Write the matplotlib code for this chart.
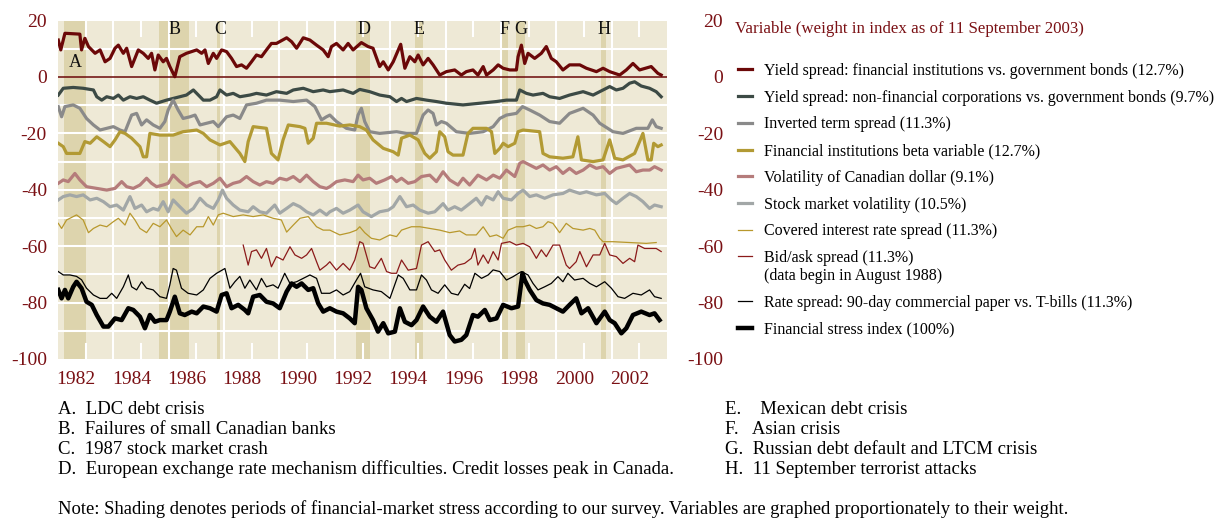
import matplotlib
matplotlib.use("Agg")
import matplotlib.pyplot as plt

# ---------------- data (decimal years, index points) ----------------
yr_fin = [1982.01, 1982.10, 1982.25, 1982.79, 1982.85, 1982.97, 1983.10, 1983.34, 1983.52, 1983.70, 1983.88,
          1984.06, 1984.18, 1984.36, 1984.48, 1984.66, 1984.90, 1985.08, 1985.26, 1985.38, 1985.50, 1985.62,
          1985.80, 1985.92, 1986.04, 1986.22, 1986.40, 1986.64, 1987.01, 1987.19, 1987.31, 1987.43, 1987.61,
          1987.73, 1987.91, 1988.09, 1988.27, 1988.45, 1988.63, 1988.81, 1988.99, 1989.17, 1989.35, 1989.53,
          1989.71, 1989.89, 1990.26, 1990.44, 1990.62, 1990.86, 1991.10, 1991.34, 1991.58, 1991.76, 1991.88,
          1992.06, 1992.30, 1992.48, 1992.66, 1992.96, 1993.20, 1993.38, 1993.62, 1993.75, 1993.93, 1994.11,
          1994.38, 1994.53, 1994.71, 1994.89, 1995.01, 1995.19, 1995.37, 1995.55, 1995.79, 1996.03, 1996.33,
          1996.57, 1996.75, 1996.99, 1997.17, 1997.36, 1997.48, 1997.72, 1997.90, 1998.08, 1998.32, 1998.56,
          1998.62, 1998.74, 1998.86, 1998.98, 1999.22, 1999.46, 1999.64, 1999.82, 2000.00, 2000.24, 2000.48,
          2000.85, 2001.09, 2001.45, 2001.69, 2001.93, 2002.29, 2002.53, 2002.77, 2003.01, 2003.43, 2003.67,
          2003.79]
v_fin = [13.1, 9.6, 15.5, 15.2, 9.6, 13.7, 10.8, 8.4, 9.6, 5.4, 6.6,
         10.2, 11.3, 8.4, 10.2, 3.7, 9.6, 8.4, 6.6, 8.4, 2.5, 7.8,
         5.4, 6.6, 3.7, 0.1, 7.2, 8.4, 9.6, 8.4, 9.6, 4.8, 8.4,
         6.6, 9.6, 9.0, 6.6, 3.7, 4.3, 3.1, 5.4, 7.8, 7.2, 9.6,
         11.9, 11.9, 13.9, 12.5, 10.2, 13.9, 13.1, 11.3, 9.6, 7.2, 10.8,
         11.9, 9.6, 11.9, 9.6, 12.2, 10.8, 10.2, 3.7, 5.4, 2.5, 5.4,
         11.6, 3.1, 7.2, 5.4, 7.8, 4.3, 6.6, 4.3, 0.7, 1.9, 2.5,
         0.7, 1.9, 2.5, 0.7, 3.7, 0.7, 2.5, 4.3, 3.1, 2.5, 2.5,
         7.2, 11.3, 4.8, 8.4, 6.6, 8.4, 10.8, 6.6, 5.4, 2.5, 4.3,
         4.3, 3.1, 1.9, 3.1, 1.9, 0.7, 2.5, 4.8, 2.5, 3.7, 1.3,
         0.7]

yr_nonfin = [1982.01, 1982.19, 1982.55, 1982.91, 1983.28, 1983.40, 1983.58, 1983.76, 1984.00, 1984.18, 1984.36,
             1984.60, 1984.84, 1985.08, 1985.32, 1985.56, 1985.92, 1986.16, 1986.40, 1986.64, 1986.89, 1987.07,
             1987.25, 1987.49, 1987.73, 1987.85, 1988.09, 1988.33, 1988.57, 1988.93, 1989.17, 1989.53, 1989.89,
             1990.26, 1990.50, 1990.86, 1991.22, 1991.58, 1991.82, 1992.30, 1992.66, 1992.90, 1993.26, 1993.62,
             1993.99, 1994.23, 1994.41, 1994.59, 1994.95, 1995.31, 1995.67, 1996.03, 1996.63, 1997.24, 1997.84,
             1998.20, 1998.56, 1998.68, 1998.92, 1999.16, 1999.52, 1999.76, 2000.12, 2000.48, 2000.97, 2001.33,
             2001.69, 2001.93, 2002.17, 2002.41, 2002.65, 2002.83, 2003.07, 2003.37, 2003.61, 2003.79]
v_nonfin = [-6.4, -4.0, -3.7, -4.0, -4.6, -7.0, -8.2, -7.0, -7.6, -6.4, -8.2,
            -7.0, -7.6, -7.0, -8.2, -9.3, -8.2, -7.6, -7.0, -6.4, -4.6, -6.4,
            -8.2, -8.2, -7.0, -4.6, -6.4, -5.8, -7.0, -6.4, -5.8, -6.4, -5.2,
            -5.8, -4.6, -4.0, -5.2, -4.6, -5.2, -4.6, -5.8, -4.4, -5.2, -6.4,
            -7.0, -8.7, -7.6, -8.7, -7.6, -8.2, -8.7, -9.3, -9.9, -9.3, -8.7,
            -8.2, -8.2, -4.6, -5.8, -6.4, -5.8, -7.0, -7.6, -6.4, -5.2, -6.4,
            -4.6, -3.4, -4.6, -4.0, -2.2, -1.7, -3.2, -4.0, -5.2, -7.0]

yr_term = [1982.01, 1982.13, 1982.25, 1982.55, 1982.79, 1983.03, 1983.28, 1983.52, 1983.76, 1984.00, 1984.24,
           1984.42, 1984.66, 1984.84, 1985.02, 1985.20, 1985.44, 1985.68, 1985.86, 1985.98, 1986.16, 1986.34,
           1986.52, 1986.77, 1986.95, 1987.13, 1987.37, 1987.61, 1987.79, 1988.09, 1988.33, 1988.57, 1988.81,
           1989.17, 1989.53, 1990.01, 1990.50, 1990.98, 1991.28, 1991.52, 1991.70, 1991.82, 1992.06, 1992.42,
           1992.72, 1992.84, 1992.96, 1993.08, 1993.26, 1993.62, 1994.23, 1994.59, 1994.95, 1995.19, 1995.37,
           1995.55, 1995.67, 1995.85, 1996.03, 1996.39, 1996.87, 1997.36, 1997.72, 1997.96, 1998.20, 1998.56,
           1998.78, 1999.04, 1999.40, 1999.76, 2000.12, 2000.48, 2000.97, 2001.33, 2001.57, 2002.05, 2002.41,
           2002.89, 2003.31, 2003.47, 2003.61, 2003.79]
v_term = [-10.5, -14.1, -10.5, -9.9, -11.1, -14.7, -17.0, -18.8, -18.2, -17.6, -18.8,
          -19.4, -13.5, -12.9, -17.0, -15.2, -17.0, -18.2, -15.8, -11.7, -8.2, -11.7,
          -14.7, -14.1, -13.5, -17.0, -16.4, -15.8, -17.6, -14.1, -13.5, -14.7, -9.9,
          -9.3, -8.2, -8.2, -8.7, -8.2, -10.5, -15.2, -14.1, -13.5, -15.8, -18.2,
          -18.8, -13.5, -11.1, -15.8, -19.4, -20.0, -19.4, -20.0, -20.0, -13.5, -11.7,
          -12.9, -17.0, -15.8, -16.4, -19.4, -20.0, -19.4, -17.6, -14.7, -13.5, -12.9,
          -10.5, -11.7, -13.5, -15.8, -16.4, -12.9, -11.1, -13.5, -16.4, -19.4, -20.0,
          -18.2, -18.2, -15.2, -17.6, -18.2]

yr_beta = [1982.01, 1982.19, 1982.31, 1982.79, 1982.97, 1983.16, 1983.40, 1983.64, 1983.88, 1984.06, 1984.24,
           1984.42, 1984.66, 1984.96, 1985.08, 1985.20, 1985.32, 1985.68, 1986.16, 1986.52, 1987.01, 1987.25,
           1987.49, 1987.85, 1988.21, 1988.57, 1988.75, 1988.87, 1989.05, 1989.53, 1989.71, 1989.95, 1990.13,
           1990.32, 1990.74, 1990.92, 1991.04, 1991.22, 1991.34, 1991.70, 1992.18, 1992.54, 1992.90, 1993.14,
           1993.38, 1993.75, 1994.11, 1994.29, 1994.41, 1994.71, 1995.01, 1995.25, 1995.43, 1995.67, 1995.79,
           1995.97, 1996.09, 1996.27, 1996.63, 1996.81, 1996.99, 1997.48, 1997.66, 1997.78, 1997.96, 1998.08,
           1998.26, 1998.50, 1998.62, 1998.80, 1999.40, 1999.52, 1999.76, 2000.24, 2000.60, 2000.78, 2000.91,
           2001.33, 2001.69, 2001.93, 2002.11, 2002.41, 2002.83, 2003.01, 2003.13, 2003.31, 2003.43, 2003.52,
           2003.67, 2003.79]
v_beta = [-23.5, -24.7, -27.1, -27.1, -22.9, -23.5, -21.2, -22.9, -24.7, -22.3, -19.4,
          -20.0, -21.7, -24.7, -28.3, -28.3, -20.0, -20.6, -20.6, -19.4, -18.8, -20.0,
          -22.3, -24.1, -22.9, -27.1, -30.0, -22.9, -17.6, -18.2, -27.1, -29.4, -22.3,
          -17.0, -17.6, -18.2, -23.5, -21.7, -16.4, -16.4, -17.4, -17.0, -17.6, -18.8,
          -22.3, -25.3, -26.5, -27.7, -21.7, -20.6, -22.3, -27.1, -28.8, -26.5, -19.4,
          -21.2, -26.5, -27.7, -27.7, -20.0, -18.2, -18.2, -19.4, -27.1, -25.3, -23.5,
          -24.7, -23.5, -19.4, -18.8, -19.4, -27.1, -28.3, -28.8, -28.3, -21.2, -29.4,
          -30.0, -29.4, -22.3, -28.8, -29.4, -27.1, -22.9, -20.0, -29.4, -29.4, -23.5,
          -24.7, -24.1]

yr_cad = [1982.01, 1982.19, 1982.37, 1982.61, 1982.79, 1983.03, 1983.40, 1983.76, 1984.06, 1984.30, 1984.48,
          1984.72, 1984.96, 1985.20, 1985.38, 1985.56, 1985.80, 1985.98, 1986.16, 1986.40, 1986.64, 1986.89,
          1987.13, 1987.37, 1987.61, 1987.85, 1988.09, 1988.33, 1988.57, 1988.81, 1989.05, 1989.29, 1989.53,
          1989.77, 1990.01, 1990.26, 1990.50, 1990.74, 1990.98, 1991.22, 1991.46, 1991.70, 1991.82, 1992.06,
          1992.36, 1992.66, 1992.84, 1993.02, 1993.26, 1993.50, 1993.80, 1994.05, 1994.23, 1994.41, 1994.65,
          1994.89, 1995.13, 1995.43, 1995.67, 1995.91, 1996.15, 1996.45, 1996.63, 1996.87, 1997.17, 1997.48,
          1997.72, 1997.96, 1998.20, 1998.50, 1998.68, 1998.80, 1999.04, 1999.28, 1999.52, 1999.76, 2000.00,
          2000.24, 2000.48, 2000.72, 2000.97, 2001.21, 2001.45, 2001.69, 2001.93, 2002.17, 2002.41, 2002.65,
          2002.89, 2003.13, 2003.37, 2003.55, 2003.79]
v_cad = [-37.7, -36.5, -37.1, -34.2, -36.5, -38.9, -39.5, -40.1, -39.5, -37.1, -38.9,
         -39.5, -38.3, -35.9, -37.7, -38.9, -38.3, -37.7, -34.8, -37.1, -38.9, -37.7,
         -37.1, -38.9, -37.7, -35.9, -38.9, -37.7, -37.1, -35.3, -37.1, -38.3, -37.1,
         -37.7, -35.9, -36.5, -35.3, -37.1, -34.8, -37.1, -38.9, -39.5, -38.9, -37.1,
         -36.5, -37.1, -34.8, -36.5, -35.9, -37.7, -36.5, -35.3, -37.1, -35.9, -37.7,
         -37.1, -35.3, -34.8, -37.1, -33.6, -36.5, -38.3, -35.9, -38.3, -34.8, -36.5,
         -34.8, -35.9, -33.0, -35.3, -30.6, -30.0, -31.2, -32.4, -31.2, -33.0, -31.8,
         -34.2, -32.4, -34.2, -33.0, -31.2, -32.4, -31.8, -34.2, -32.4, -31.8, -31.2,
         -33.6, -33.0, -33.0, -31.8, -33.0]

yr_stock = [1982.01, 1982.19, 1982.43, 1982.67, 1982.91, 1983.16, 1983.40, 1983.64, 1983.88, 1984.12, 1984.36,
            1984.60, 1984.78, 1985.02, 1985.20, 1985.44, 1985.62, 1985.80, 1985.98, 1986.16, 1986.40, 1986.64,
            1986.89, 1987.13, 1987.37, 1987.61, 1987.79, 1987.94, 1988.09, 1988.33, 1988.57, 1988.87, 1989.05,
            1989.29, 1989.53, 1989.83, 1990.01, 1990.26, 1990.50, 1990.74, 1990.98, 1991.22, 1991.46, 1991.70,
            1991.82, 1992.06, 1992.30, 1992.54, 1992.84, 1993.02, 1993.32, 1993.62, 1993.93, 1994.11, 1994.35,
            1994.59, 1994.83, 1995.07, 1995.37, 1995.61, 1995.91, 1996.09, 1996.33, 1996.57, 1996.87, 1997.11,
            1997.30, 1997.48, 1997.72, 1997.90, 1998.08, 1998.38, 1998.62, 1998.80, 1999.04, 1999.28, 1999.58,
            1999.88, 2000.24, 2000.48, 2000.85, 2001.09, 2001.45, 2001.75, 2001.99, 2002.17, 2002.41, 2002.65,
            2002.89, 2003.13, 2003.37, 2003.55, 2003.79]
v_stock = [-43.6, -42.4, -41.8, -42.4, -41.8, -43.6, -43.0, -44.2, -46.0, -45.4, -47.2,
           -42.4, -46.6, -45.4, -47.8, -46.6, -47.2, -44.2, -47.8, -43.6, -46.0, -48.3,
           -46.6, -43.0, -45.4, -46.6, -43.6, -40.1, -43.0, -45.4, -47.2, -47.8, -46.0,
           -47.8, -48.3, -45.4, -48.3, -46.6, -44.9, -46.0, -47.8, -48.9, -47.2, -48.9,
           -47.8, -46.6, -48.3, -47.2, -45.4, -47.8, -49.5, -47.8, -47.2, -46.0, -42.4,
           -46.0, -45.4, -47.2, -48.3, -47.8, -44.9, -47.2, -46.0, -47.2, -44.9, -43.0,
           -45.4, -42.4, -43.6, -40.7, -43.0, -43.6, -41.3, -40.1, -42.4, -41.8, -43.0,
           -41.8, -41.3, -40.1, -41.3, -40.7, -41.8, -41.3, -43.6, -44.9, -43.0, -41.3,
           -42.4, -44.2, -46.6, -45.4, -46.0]

yr_cov = [1982.01, 1982.13, 1982.31, 1982.67, 1982.91, 1983.10, 1983.28, 1983.52, 1983.76, 1984.00, 1984.18,
          1984.42, 1984.60, 1984.78, 1984.96, 1985.20, 1985.44, 1985.68, 1985.92, 1986.10, 1986.28, 1986.52,
          1986.77, 1987.01, 1987.25, 1987.43, 1987.61, 1987.79, 1987.97, 1988.33, 1988.69, 1989.05, 1989.41,
          1989.77, 1990.07, 1990.26, 1990.50, 1990.74, 1991.04, 1991.34, 1991.58, 1991.82, 1992.18, 1992.54,
          1992.78, 1992.90, 1993.08, 1993.32, 1993.62, 1993.99, 1994.23, 1994.41, 1994.77, 1995.07, 1995.43,
          1995.79, 1996.15, 1996.51, 1996.75, 1997.11, 1997.36, 1997.60, 1997.84, 1998.08, 1998.26, 1998.56,
          1998.80, 1999.04, 1999.28, 1999.52, 1999.70, 1999.88, 2000.12, 2000.36, 2000.60, 2000.97, 2001.21,
          2001.39, 2001.57, 2001.69, 2002.05, 2002.65, 2003.25, 2003.61]
v_cov = [-51.9, -53.7, -50.7, -48.9, -50.7, -55.2, -53.7, -52.5, -53.1, -51.3, -50.1,
         -52.5, -48.3, -50.7, -53.7, -55.2, -51.9, -53.1, -50.7, -53.8, -56.6, -54.3,
         -56.0, -53.1, -53.1, -49.5, -52.5, -48.9, -48.3, -49.5, -48.9, -49.5, -48.9,
         -50.1, -50.7, -55.0, -52.5, -50.1, -49.5, -53.1, -54.3, -54.3, -56.0, -55.2,
         -54.3, -53.1, -55.2, -57.2, -57.8, -56.0, -56.6, -54.3, -53.1, -53.1, -53.7,
         -54.3, -55.2, -54.6, -56.0, -56.0, -53.1, -56.6, -56.0, -57.2, -54.3, -53.1,
         -53.1, -52.5, -53.7, -53.1, -51.3, -51.9, -55.2, -51.9, -53.7, -54.3, -53.7,
         -54.3, -57.2, -58.4, -58.4, -58.7, -59.0, -58.7]

yr_bidask = [1988.69, 1988.87, 1988.99, 1989.17, 1989.35, 1989.53, 1989.71, 1989.89, 1990.13, 1990.38, 1990.56,
             1990.80, 1990.98, 1991.16, 1991.34, 1991.46, 1991.70, 1991.82, 1992.06, 1992.30, 1992.54, 1992.72,
             1992.90, 1993.02, 1993.26, 1993.44, 1993.68, 1993.87, 1994.05, 1994.23, 1994.41, 1994.65, 1994.95,
             1995.13, 1995.37, 1995.61, 1995.79, 1995.97, 1996.21, 1996.45, 1996.69, 1996.93, 1997.06, 1997.17,
             1997.36, 1997.54, 1997.72, 1997.90, 1998.02, 1998.32, 1998.56, 1998.80, 1999.04, 1999.28, 1999.46,
             1999.64, 1999.88, 2000.12, 2000.36, 2000.48, 2000.72, 2000.85, 2001.09, 2001.33, 2001.57, 2001.75,
             2001.93, 2002.17, 2002.41, 2002.65, 2002.83, 2002.95, 2003.19, 2003.37, 2003.61, 2003.79]
v_bidask = [-59.6, -66.7, -61.9, -61.3, -64.3, -60.8, -67.3, -63.7, -64.9, -60.2, -63.1,
            -64.3, -63.1, -60.8, -65.5, -68.5, -66.7, -65.5, -68.5, -66.1, -68.5, -64.9,
            -58.4, -59.0, -67.3, -67.9, -64.3, -69.0, -69.6, -69.6, -64.9, -68.5, -67.9,
            -59.6, -58.4, -61.9, -61.3, -64.9, -68.5, -66.7, -66.1, -64.3, -60.8, -66.7,
            -63.1, -66.1, -61.9, -64.9, -59.0, -58.4, -59.6, -59.0, -60.2, -64.3, -61.3,
            -63.7, -59.6, -59.6, -66.7, -67.9, -65.5, -61.9, -67.3, -63.1, -63.1, -59.0,
            -63.1, -63.7, -66.1, -64.3, -65.5, -59.6, -60.8, -60.8, -60.8, -61.9]

yr_cp = [1982.01, 1982.19, 1982.43, 1982.67, 1982.85, 1983.03, 1983.28, 1983.52, 1983.76, 1983.94, 1984.12,
         1984.36, 1984.54, 1984.66, 1984.84, 1985.02, 1985.20, 1985.44, 1985.68, 1985.92, 1986.04, 1986.16,
         1986.28, 1986.46, 1986.70, 1987.01, 1987.25, 1987.49, 1987.73, 1988.03, 1988.21, 1988.39, 1988.57,
         1988.75, 1988.93, 1989.17, 1989.35, 1989.53, 1989.77, 1989.95, 1990.19, 1990.38, 1990.62, 1990.86,
         1991.10, 1991.34, 1991.52, 1991.82, 1992.06, 1992.30, 1992.54, 1992.78, 1992.93, 1993.08, 1993.38,
         1993.68, 1993.99, 1994.29, 1994.47, 1994.71, 1994.95, 1995.13, 1995.31, 1995.49, 1995.73, 1995.97,
         1996.21, 1996.45, 1996.69, 1996.87, 1997.06, 1997.30, 1997.54, 1997.72, 1997.96, 1998.20, 1998.44,
         1998.74, 1998.98, 1999.16, 1999.34, 1999.58, 1999.82, 2000.06, 2000.24, 2000.42, 2000.66, 2000.97,
         2001.21, 2001.45, 2001.75, 2001.99, 2002.23, 2002.47, 2002.77, 2003.07, 2003.37, 2003.55, 2003.79]
v_cp = [-69.0, -70.2, -70.2, -70.7, -71.9, -74.9, -77.3, -78.5, -78.5, -76.7, -78.5,
        -74.4, -70.2, -74.4, -75.5, -72.6, -74.9, -75.5, -77.9, -78.5, -73.7, -67.9,
        -68.5, -74.9, -76.7, -77.3, -75.5, -71.4, -69.6, -67.9, -74.9, -72.6, -70.7,
        -74.9, -72.0, -75.5, -71.4, -74.4, -73.7, -74.9, -69.6, -73.2, -72.6, -71.4,
        -70.2, -71.4, -76.7, -76.7, -75.5, -77.3, -76.1, -72.0, -69.6, -74.4, -75.5,
        -76.1, -78.5, -70.2, -71.4, -75.5, -75.5, -70.2, -72.0, -75.5, -76.7, -73.7,
        -76.7, -77.3, -73.5, -75.0, -69.6, -71.4, -70.2, -68.4, -69.0, -72.0, -70.8,
        -69.0, -70.2, -73.2, -75.5, -74.4, -73.2, -70.8, -72.6, -69.6, -72.0, -71.4,
        -73.2, -74.4, -72.6, -74.9, -77.9, -78.5, -76.7, -77.3, -75.5, -77.9, -78.5]

yr_fsi = [1982.01, 1982.13, 1982.25, 1982.37, 1982.55, 1982.67, 1982.85, 1983.03, 1983.22, 1983.40, 1983.64,
          1983.82, 1984.06, 1984.30, 1984.54, 1984.72, 1984.96, 1985.14, 1985.32, 1985.50, 1985.68, 1985.92,
          1986.04, 1986.22, 1986.40, 1986.58, 1986.83, 1987.01, 1987.25, 1987.49, 1987.73, 1987.91, 1988.09,
          1988.27, 1988.51, 1988.75, 1988.87, 1989.05, 1989.29, 1989.53, 1989.77, 1990.01, 1990.26, 1990.44,
          1990.62, 1990.80, 1991.04, 1991.22, 1991.40, 1991.58, 1991.82, 1992.06, 1992.30, 1992.54, 1992.72,
          1992.84, 1992.96, 1993.14, 1993.38, 1993.56, 1993.75, 1993.93, 1994.17, 1994.35, 1994.53, 1994.77,
          1994.95, 1995.19, 1995.43, 1995.67, 1995.91, 1996.15, 1996.33, 1996.57, 1996.75, 1996.99, 1997.17,
          1997.42, 1997.60, 1997.84, 1998.08, 1998.38, 1998.62, 1998.78, 1998.86, 1999.04, 1999.28, 1999.52,
          1999.76, 2000.00, 2000.24, 2000.48, 2000.72, 2000.91, 2001.15, 2001.45, 2001.75, 2001.93, 2002.11,
          2002.35, 2002.53, 2002.77, 2003.07, 2003.37, 2003.55, 2003.73]
v_fsi = [-75.5, -78.5, -75.5, -78.5, -74.4, -72.6, -74.9, -79.7, -80.8, -84.4, -88.5,
         -88.5, -85.6, -86.2, -82.0, -82.6, -85.0, -89.1, -84.4, -86.8, -86.2, -86.2,
         -83.2, -77.9, -83.8, -84.4, -83.2, -83.8, -81.4, -82.0, -83.2, -77.3, -76.7,
         -82.0, -80.8, -82.6, -83.8, -77.9, -77.3, -79.7, -80.3, -82.0, -76.1, -73.2,
         -74.4, -73.2, -75.5, -74.9, -80.3, -83.2, -82.0, -83.2, -83.8, -85.6, -87.3,
         -74.4, -75.5, -82.0, -86.2, -90.3, -87.3, -90.9, -90.3, -82.0, -86.8, -88.0,
         -86.2, -81.4, -85.0, -86.8, -83.2, -91.5, -93.8, -93.2, -91.5, -84.4, -85.0,
         -82.6, -86.2, -85.6, -80.8, -82.0, -81.4, -69.6, -72.0, -75.5, -79.1, -80.3,
         -80.8, -82.0, -83.2, -80.8, -78.5, -83.8, -82.0, -87.3, -83.2, -86.2, -87.3,
         -90.9, -89.1, -84.4, -83.2, -84.4, -83.8, -86.2]

# stress episodes (start, end) and their letters
band_start = [1982.22, 1985.65, 1987.73, 1992.78, 1994.89, 1998.05, 1998.56, 2001.63]
band_end = [1983.01, 1986.74, 1987.85, 1993.26, 1995.17, 1998.26, 1998.86, 2001.78]
episode_letters = ["A", "B", "C", "D", "E", "F", "G", "H"]
letter_x = [1982.61, 1986.22, 1987.85, 1993.05, 1995.03, 1998.14, 1998.71, 2001.71]
letter_y = [5.3, 16.7, 16.7, 16.7, 16.7, 16.7, 16.7, 16.7]

year_labels = list(range(1982, 2003, 2))
y_ticks = [20, 0, -20, -40, -60, -80, -100]

legend_labels = [
    "Yield spread: financial institutions vs. government bonds (12.7%)",
    "Yield spread: non-financial corporations vs. government bonds (9.7%)",
    "Inverted term spread (11.3%)",
    "Financial institutions beta variable (12.7%)",
    "Volatility of Canadian dollar (9.1%)",
    "Stock market volatility (10.5%)",
    "Covered interest rate spread (11.3%)",
    "Bid/ask spread (11.3%)\n(data begin in August 1988)",
    "Rate spread: 90-day commercial paper vs. T-bills (11.3%)",
    "Financial stress index (100%)",
]
notes_left = [
    "A.  LDC debt crisis",
    "B.  Failures of small Canadian banks",
    "C.  1987 stock market crash",
    "D.  European exchange rate mechanism difficulties. Credit losses peak in Canada.",
]
notes_right = [
    "E.    Mexican debt crisis",
    "F.   Asian crisis",
    "G.  Russian debt default and LTCM crisis",
    "H.  11 September terrorist attacks",
]
note_text = ("Note: Shading denotes periods of financial-market stress according to our survey. "
             "Variables are graphed proportionately to their weight.")

# ---------------- styling ----------------
plt.rcParams["font.family"] = ["Liberation Serif", "DejaVu Serif"]
BG = "#EEE9D6"
BAND = "#DDD4AD"
DARKRED = "#7A1014"

series = [
    (yr_fin, v_fin, "#6B0808", 2.3),
    (yr_nonfin, v_nonfin, "#3C4A45", 2.3),
    (yr_term, v_term, "#8A8A8A", 2.3),
    (yr_beta, v_beta, "#B29A34", 2.3),
    (yr_cad, v_cad, "#B57C7B", 2.3),
    (yr_stock, v_stock, "#A2A7A7", 2.3),
    (yr_cov, v_cov, "#B8982C", 0.9),
    (yr_bidask, v_bidask, "#8B1A1A", 0.9),
    (yr_cp, v_cp, "#000000", 0.9),
    (yr_fsi, v_fsi, "#000000", 3.2),
]

W, H = 1226, 519
fig = plt.figure(figsize=(W / 100, H / 100), dpi=100)
ax = fig.add_axes([58 / W, (H - 359) / H, 609 / W, 338.4 / H])
ax.set_xlim(1982, 2004)
ax.set_ylim(-100, 20)
ax.set_facecolor(BG)
for sp in ax.spines.values():
    sp.set_visible(False)

for s, e in zip(band_start, band_end):
    ax.axvspan(s, e, color=BAND, lw=0, zorder=0.5)

for v in range(-90, 20, 10):
    if v != 0:
        ax.axhline(v, color="white", lw=1.5, zorder=1)
for yv in range(1984, 2004, 2):
    ax.axvline(yv, color="white", lw=1.5, zorder=1)
xt = ax.get_xaxis_transform()
for yv in range(1983, 2004, 2):
    ax.plot([yv, yv], [0, 0.045], transform=xt, color="white", lw=1.5, zorder=1)
    ax.plot([yv, yv], [0.955, 1.0], transform=xt, color="white", lw=1.5, zorder=1)
ax.axhline(0, color="#6B0808", lw=1.1, zorder=2)

handles = []
for xs, ys, c, lw in series:
    (ln,) = ax.plot(xs, ys, color=c, lw=lw, zorder=3, solid_joinstyle="round")
    handles.append(ln)

for L, x, y in zip(episode_letters, letter_x, letter_y):
    ax.text(x, y, L, ha="center", va="center", fontsize=13, color="#111111", zorder=4)

# axes ticks
ax.set_xticks([y + 0.65 for y in year_labels])
ax.set_xticklabels([str(y) for y in year_labels])
ax.set_yticks(y_ticks)
ax.set_yticklabels([str(v) for v in y_ticks])
ax.tick_params(axis="x", length=0, pad=9, labelsize=14, labelcolor=DARKRED)
ax.tick_params(axis="y", length=0, pad=8, labelsize=14, labelcolor=DARKRED,
               labelright=True)
for t in ax.yaxis.get_major_ticks():
    t.label2.set_horizontalalignment("right")
    t.label2.set_x(1 + 45 / 609)

# legend
fig.text(735 / W, 1 - 29 / H, "Variable (weight in index as of 11 September 2003)",
         color=DARKRED, fontsize=12.2, va="center", ha="left")
leg = fig.legend(handles, legend_labels, loc="upper left", bbox_to_anchor=(738 / W, 1 - 63 / H),
                 frameon=False, fontsize=11.5, handlelength=0.9, handletextpad=0.7,
                 labelspacing=0.67, borderpad=0, borderaxespad=0)
# keep the bid/ask handle level with the first line of its two-line label
try:
    for col in leg._legend_handle_box.get_children():
        for row in col.get_children():
            kids = row.get_children()
            if len(kids) == 2 and "\n" in kids[1]._text.get_text():
                row.align = "top"
except Exception:
    pass

# footnotes
for i, t in enumerate(notes_left):
    fig.text(58 / W, 1 - (409 + 20 * i) / H, t, fontsize=13.5, va="center", ha="left")
for i, t in enumerate(notes_right):
    fig.text(725 / W, 1 - (409 + 20 * i) / H, t, fontsize=13.5, va="center", ha="left")
fig.text(58 / W, 1 - 509 / H, note_text, fontsize=13.4, va="center", ha="left")

fig.savefig("out.png", dpi=100, facecolor="white")
